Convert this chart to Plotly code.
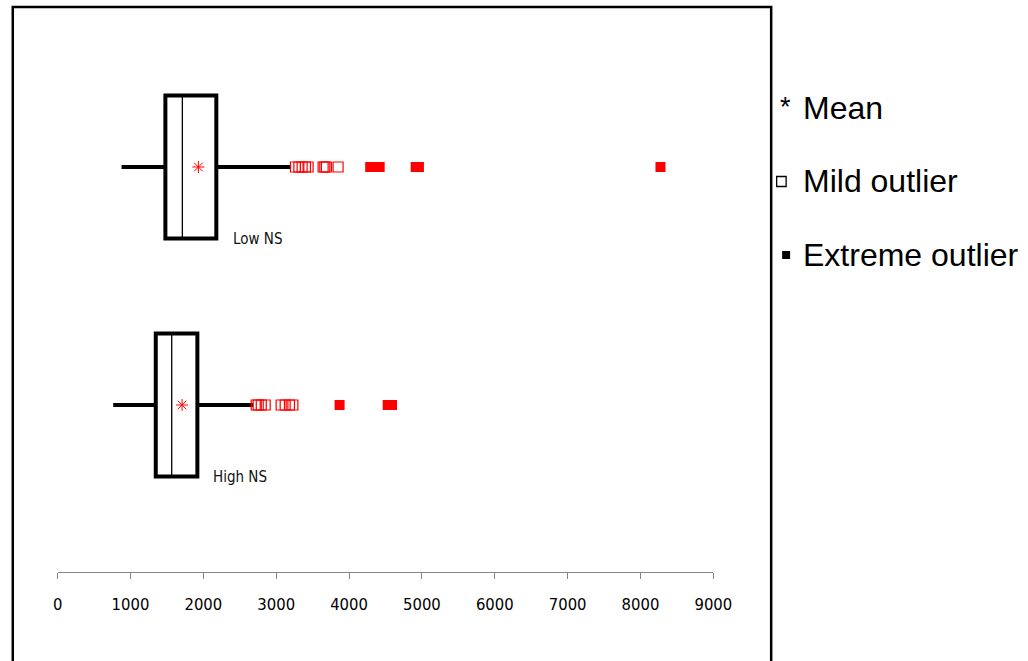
import plotly.graph_objects as go

# ---- data ----
groups = ["Low NS", "High NS"]
group_pos = [1, 0]
lower_whisker = [877, 763]
q1 = [1479, 1347]
median = [1712, 1566]
q3 = [2178, 1918]
upper_whisker = [3205, 2681]
means = [1932, 1708]
mild_outliers = [
    [3264, 3311, 3356, 3401, 3438, 3644, 3667, 3689, 3849],
    [2726, 2753, 2795, 2849, 3068, 3123, 3182, 3229],
]
extreme_outliers = [
    [4290, 4355, 4420, 4914, 4959, 8274],
    [3870, 4530, 4589],
]
x_ticks = [0, 1000, 2000, 3000, 4000, 5000, 6000, 7000, 8000, 9000]
legend_labels = ["Mean", "Mild outlier", "Extreme outlier"]

W, H = 1028, 661
# horizontal calibration of the capture (page px -> picture px: 0.98*x + 3.2)
SX, OX = 0.98, 3.2
def px(x):
    return ((x - OX) / SX) / W
def py(y):
    return 1 - y / H

NARROW = "Liberation Sans Narrow, DejaVu Sans Condensed, Arial Narrow, sans-serif"
SANS = "Liberation Sans, Arial, sans-serif"
RED = "#FF0000"

fig = go.Figure()
shapes = []
annotations = []
half = 0.3

for i, g in enumerate(groups):
    p = group_pos[i]
    # whiskers
    fig.add_trace(go.Scatter(x=[lower_whisker[i], q1[i]], y=[p, p], mode="lines",
                             line=dict(color="black", width=4), hoverinfo="skip"))
    fig.add_trace(go.Scatter(x=[q3[i], upper_whisker[i]], y=[p, p], mode="lines",
                             line=dict(color="black", width=4), hoverinfo="skip"))
    # box
    shapes.append(dict(type="rect", xref="x", yref="y", x0=q1[i], x1=q3[i],
                       y0=p - half, y1=p + half, line=dict(color="black", width=4),
                       layer="below"))
    shapes.append(dict(type="line", xref="x", yref="y", x0=median[i], x1=median[i],
                       y0=p - half, y1=p + half, line=dict(color="black", width=1.3),
                       layer="below"))
    # mean
    fig.add_trace(go.Scatter(x=[means[i]], y=[p], mode="markers",
                             marker=dict(symbol="asterisk-open", size=10, color=RED,
                                         line=dict(color=RED, width=1)),
                             name="Mean"))
    # mild outliers
    fig.add_trace(go.Scatter(x=mild_outliers[i], y=[p] * len(mild_outliers[i]), mode="markers",
                             marker=dict(symbol="square-open", size=10, color=RED,
                                         line=dict(color=RED, width=1.2)),
                             name="Mild outlier"))
    # extreme outliers
    fig.add_trace(go.Scatter(x=extreme_outliers[i], y=[p] * len(extreme_outliers[i]), mode="markers",
                             marker=dict(symbol="square", size=10, color=RED,
                                         line=dict(width=0)),
                             name="Extreme outlier"))
    # group label
    annotations.append(dict(x=q3[i], y=p - half, xref="x", yref="y", text=g,
                            showarrow=False, xanchor="left", yanchor="middle",
                            xshift=[15, 14][i], yshift=-1,
                            font=dict(family=NARROW, size=15, color="#111")))

# outer frame
shapes.append(dict(type="rect", xref="paper", yref="paper", x0=px(11), x1=px(772),
                   y0=-0.05, y1=py(7), line=dict(color="black", width=2.5)))

# legend
legend_y = [108, 181, 255]
annotations.append(dict(x=px(786), y=py(107), xref="paper", yref="paper", text="*",
                        showarrow=False, xanchor="center", yanchor="middle",
                        font=dict(family=SANS, size=27, color="black")))
shapes.append(dict(type="rect", xref="paper", yref="paper", x0=px(777.5), x1=px(787),
                   y0=py(186.5), y1=py(176.5), line=dict(color="black", width=1.3)))
shapes.append(dict(type="rect", xref="paper", yref="paper", x0=px(783), x1=px(791),
                   y0=py(259), y1=py(251), fillcolor="black", line=dict(width=0)))
for lab, yy in zip(legend_labels, legend_y):
    annotations.append(dict(x=px(802), y=py(yy), xref="paper", yref="paper", text=lab,
                            showarrow=False, xanchor="left", yanchor="middle",
                            font=dict(family=SANS, size=32, color="black")))

fig.update_layout(
    width=W, height=H, autosize=False,
    margin=dict(l=0, r=0, t=0, b=0, pad=0),
    paper_bgcolor="white", plot_bgcolor="white",
    showlegend=False,
    shapes=shapes, annotations=annotations,
    xaxis=dict(domain=[px(56), px(714)], range=[0, 9000], tickvals=x_ticks,
               ticktext=[str(t) for t in x_ticks], showline=True, linecolor="#868686",
               linewidth=1, ticks="outside", ticklen=6, tickcolor="#868686", tickwidth=1,
               showgrid=False, zeroline=False, ticklabelstandoff=11,
               tickfont=dict(family=NARROW, size=16.5, color="black")),
    yaxis=dict(domain=[1 - 572 / H, 1], range=[-0.7017, 1.7017], visible=False),
)

post = (
    "document.documentElement.style.margin='0';"
    "document.body.style.margin='0';document.body.style.padding='0';"
    "document.body.style.overflow='hidden';document.documentElement.style.overflow='hidden';"
    "var gd=document.getElementById('{plot_id}');"
    "Plotly.relayout(gd,{width:%d,height:%d});" % (W, H)
)
fig.write_html("out.html", config={"responsive": False, "displayModeBar": False},
               post_script=post)
